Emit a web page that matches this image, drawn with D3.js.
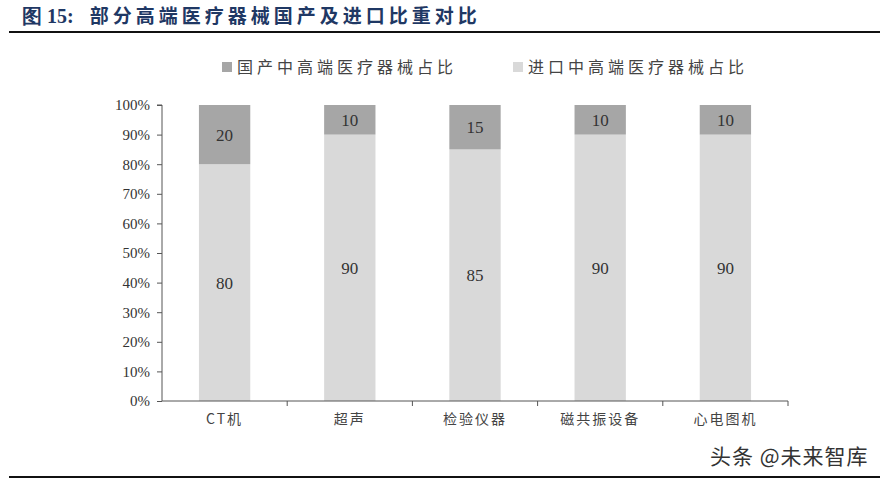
<!DOCTYPE html>
<html>
<head>
<meta charset="utf-8">
<script src="https://cdn.jsdelivr.net/npm/d3@7"></script>
<style>
  body { margin: 0; background: #fff; }
  svg { display: block; }
</style>
</head>
<body>
<svg id="chart" width="886" height="479"></svg>
<script>
(() => {

// data
const categories = ['CT机', '超声', '检验仪器', '磁共振设备', '心电图机'];
const domestic_share = [20, 10, 15, 10, 10];
const imported_share = [80, 90, 85, 90, 90];
const series_names = ['国产中高端医疗器械占比', '进口中高端医疗器械占比'];
const y_ticks = [0, 10, 20, 30, 40, 50, 60, 70, 80, 90, 100];

// chart parameters
const plot_left = 162;
const plot_right = 788;
const plot_top = 105;
const plot_bottom = 401;
const band_padding = 0.59;

const serif_font = '"Liberation Serif", "DejaVu Serif", serif';
const cjk_font = '"Noto Sans CJK SC", sans-serif';
const axis_color = '#555';

const colors = d3.scaleOrdinal()
    .domain(['domestic', 'imported'])
    .range(['#a6a6a6', '#d9d9d9']);

let svg = d3.select('#chart');

// title and frame lines
let title = svg.append('text')
    .attr('x', 22)
    .attr('y', 23)
    .attr('fill', '#1f3864')
    .style('font-weight', 'bold')
    .style('font-size', '19px');
title.append('tspan')
    .style('font-family', serif_font)
    .style('font-size', '20px')
    .text('图 15:');
title.append('tspan')
    .attr('dx', 16)
    .style('font-family', cjk_font)
    .style('letter-spacing', '4px')
    .text('部分高端医疗器械国产及进口比重对比');

svg.append('line')
    .attr('x1', 9).attr('x2', 880)
    .attr('y1', 32).attr('y2', 32)
    .attr('stroke', '#111').attr('stroke-width', 2);

svg.append('line')
    .attr('x1', 9).attr('x2', 880)
    .attr('y1', 477).attr('y2', 477)
    .attr('stroke', '#111').attr('stroke-width', 2);

// stack data
let grouped_data = categories.map((c, i) => ({
    category: c,
    imported: imported_share[i],
    domestic: domestic_share[i]
}));

let stacks = d3.stack()
    .keys(['imported', 'domestic'])
    (grouped_data);

// scales
let x_scale = d3.scaleBand()
    .domain(categories)
    .range([plot_left, plot_right])
    .paddingInner(band_padding)
    .paddingOuter(band_padding / 2);

let y_scale = d3.scaleLinear()
    .domain([0, 100])
    .range([plot_bottom, plot_top]);

// bars
svg.append('g')
    .selectAll('g')
    .data(stacks)
    .enter()
        .append('g')
        .attr('fill', (d) => colors(d.key))
        .selectAll('rect')
        .data((d) => d)
        .enter()
            .append('rect')
            .attr('x', (d) => x_scale(d.data.category))
            .attr('y', (d) => y_scale(d[1]))
            .attr('width', x_scale.bandwidth())
            .attr('height', (d) => y_scale(d[0]) - y_scale(d[1]));

// value labels
svg.append('g')
    .selectAll('g')
    .data(stacks)
    .enter()
        .append('g')
        .selectAll('text')
        .data((d) => d)
        .enter()
            .append('text')
            .attr('x', (d) => x_scale(d.data.category) + x_scale.bandwidth() / 2)
            .attr('y', (d) => (y_scale(d[0]) + y_scale(d[1])) / 2)
            .attr('dy', '0.35em')
            .attr('text-anchor', 'middle')
            .attr('fill', '#333')
            .style('font-family', serif_font)
            .style('font-size', '17px')
            .text((d) => d[1] - d[0]);

// y axis
let y_axis = d3.axisLeft(y_scale)
    .tickValues(y_ticks)
    .tickSize(5)
    .tickPadding(7)
    .tickFormat((d) => d + '%');

let y_g = svg.append('g')
    .attr('transform', `translate(${plot_left}, 0)`)
    .call(y_axis);
y_g.select('.domain').attr('stroke', axis_color).attr('d', `M-5,${plot_top}H0V${plot_bottom}`);
y_g.selectAll('.tick line').attr('stroke', axis_color);
y_g.selectAll('.tick text')
    .attr('fill', '#333')
    .style('font-family', serif_font)
    .style('font-size', '15px');

// x axis with ticks between categories
let x_axis = d3.axisBottom(x_scale)
    .tickSize(0)
    .tickPadding(13);

let x_g = svg.append('g')
    .attr('transform', `translate(0, ${plot_bottom})`)
    .call(x_axis);
x_g.select('.domain').attr('stroke', axis_color).attr('d', `M${plot_left},0H${plot_right}V5`);
x_g.selectAll('.tick text')
    .attr('fill', '#444')
    .style('font-family', cjk_font)
    .style('font-size', '14px')
    .style('letter-spacing', '2px');

let step = x_scale.step();
x_g.append('g')
    .selectAll('line')
    .data(categories.slice(1))
    .enter()
        .append('line')
        .attr('x1', (d) => x_scale(d) - step * band_padding / 2)
        .attr('x2', (d) => x_scale(d) - step * band_padding / 2)
        .attr('y1', 0)
        .attr('y2', 5)
        .attr('stroke', axis_color);

// legend
let legend_x = [222, 513];
let legend = svg.append('g')
    .selectAll('g')
    .data(series_names)
    .enter()
        .append('g')
        .attr('transform', (d, i) => `translate(${legend_x[i]}, 67)`);

legend.append('rect')
    .attr('x', 0)
    .attr('y', -5)
    .attr('width', 10)
    .attr('height', 10)
    .attr('fill', (d, i) => colors(i == 0 ? 'domestic' : 'imported'));

legend.append('text')
    .attr('x', 15)
    .attr('dy', '0.36em')
    .attr('fill', '#444')
    .style('font-family', cjk_font)
    .style('font-size', '16px')
    .style('letter-spacing', '4px')
    .text((d) => d);

// watermark
svg.append('text')
    .attr('x', 710)
    .attr('y', 464)
    .attr('fill', '#333')
    .style('font-family', cjk_font)
    .style('font-size', '21px')
    .style('letter-spacing', '1px')
    .text('头条 @未来智库');

})();
</script>
</body>
</html>
